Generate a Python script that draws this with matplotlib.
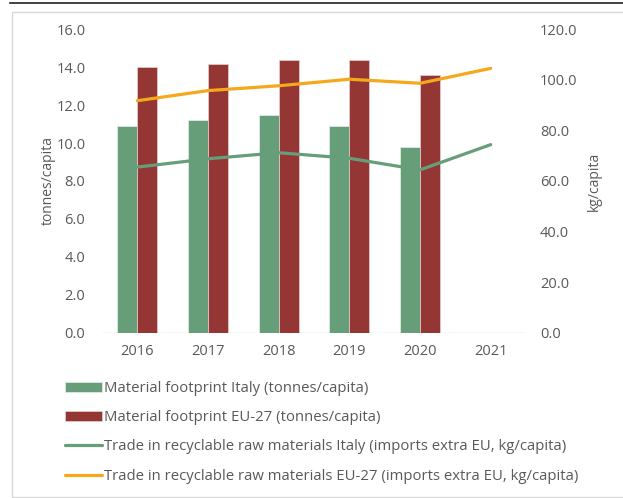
import numpy as np
import matplotlib
matplotlib.use('Agg')
import matplotlib.pyplot as plt
from matplotlib.lines import Line2D

years = ['2016', '2017', '2018', '2019', '2020', '2021']
footprint_italy = [10.9, 11.2, 11.5, 10.9, 9.8, np.nan]
footprint_eu = [14.0, 14.2, 14.4, 14.4, 13.6, np.nan]
trade_italy = [65.5, 68.8, 71.2, 69.0, 64.4, 74.4]
trade_eu = [91.8, 95.8, 97.7, 100.3, 98.7, 104.6]

green = '#679e7a'
red = '#943634'
orange = '#f5a81c'
txt = '#595959'

plt.rcParams['font.family'] = ['Open Sans', 'DejaVu Sans']

fig = plt.figure(figsize=(6.23, 4.98), dpi=100)
ax = fig.add_axes([0.1637, 0.3323, 0.6806, 0.6085])
ax2 = ax.twinx()

x = np.arange(len(years))
w = 0.283
ax.bar(x - w / 2, footprint_italy, w, color=green, edgecolor='#e8f0ea', linewidth=0.5,
       label='Material footprint Italy (tonnes/capita)')
ax.bar(x + w / 2, footprint_eu, w, color=red, edgecolor='#e8d0d0', linewidth=0.5,
       label='Material footprint EU-27 (tonnes/capita)')

ax2.plot(x, trade_italy, color=green, lw=2.3, solid_capstyle='round',
         label='Trade in recyclable raw materials Italy (imports extra EU, kg/capita)')
ax2.plot(x, trade_eu, color=orange, lw=2.3, solid_capstyle='round',
         label='Trade in recyclable raw materials EU-27 (imports extra EU, kg/capita)')

ax.set_xlim(-0.5, len(years) - 0.5)
ax.set_ylim(0, 16)
ax2.set_ylim(0, 120)
ax.set_xticks(x)
ax.set_xticklabels(years)
ax.set_yticks(np.arange(0, 16.1, 2))
ax.set_yticklabels([f'{v:.1f}' for v in np.arange(0, 16.1, 2)])
ax2.set_yticks(np.arange(0, 121, 20))
ax2.set_yticklabels([f'{v:.1f}' for v in np.arange(0, 121, 20)])

for a in (ax, ax2):
    for s in a.spines.values():
        s.set_visible(False)
    a.tick_params(length=0, labelsize=10.5, colors=txt)
ax.tick_params(axis='y', pad=12)
ax.tick_params(axis='x', pad=8)
ax2.tick_params(axis='y', pad=10)
ax.axhline(0, color='#d9d9d9', lw=1, zorder=0.5)

ax.set_ylabel('tonnes/capita', color=txt, fontsize=10, labelpad=0)
ax2.set_ylabel('kg/capita', color=txt, fontsize=10, labelpad=7)

# frame around the chart
fig.add_artist(Line2D([10 / 623, 1], [1 - 3 / 498, 1 - 3 / 498], color='#222222', lw=1.2))
fig.add_artist(plt.Rectangle((12 / 623, 1.5 / 498), 1.2, 1 - 14 / 498, fill=False,
                             edgecolor='#d9d9d9', lw=1))

h1, l1 = ax.get_legend_handles_labels()
h2, l2 = ax2.get_legend_handles_labels()
fig.legend(h1 + h2, l1 + l2, loc='upper left', bbox_to_anchor=(0.095, 0.247),
           frameon=False, fontsize=10.7, labelcolor=txt, handlelength=2.45,
           handletextpad=0.15, labelspacing=0.96, borderaxespad=0)

fig.savefig('out.png', dpi=100)
